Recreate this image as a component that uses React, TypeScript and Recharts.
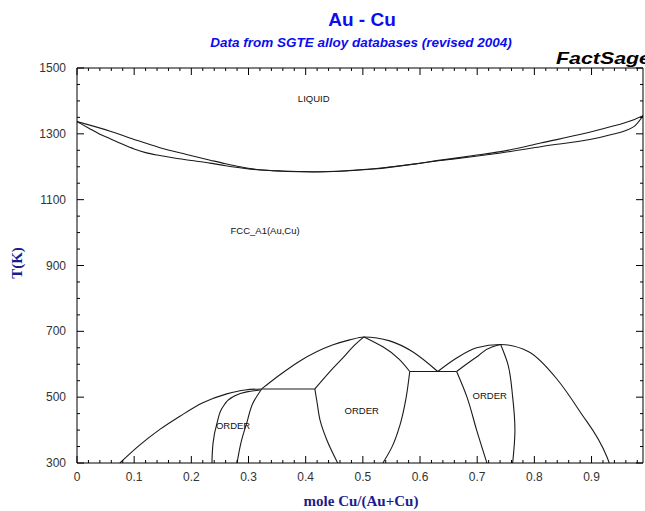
import React from 'react';
import { LineChart, Line, XAxis, YAxis, ReferenceDot } from 'recharts';

// ---- phase boundary data (x = mole fraction Cu, T in K) ----
const liquidus = [
  { x: 0, T: 1337 }, { x: 0.058, T: 1308 }, { x: 0.1, T: 1283 }, { x: 0.145, T: 1258 },
  { x: 0.19, T: 1238 }, { x: 0.233, T: 1220 }, { x: 0.26, T: 1209 }, { x: 0.285, T: 1200 },
  { x: 0.32, T: 1191 }, { x: 0.36, T: 1187 }, { x: 0.413, T: 1185 }, { x: 0.47, T: 1188 },
  { x: 0.519, T: 1194 }, { x: 0.58, T: 1206 }, { x: 0.636, T: 1220 }, { x: 0.694, T: 1234 },
  { x: 0.741, T: 1246 }, { x: 0.811, T: 1272 }, { x: 0.928, T: 1319 }, { x: 0.974, T: 1343 },
  { x: 0.99, T: 1355 },
];
const solidus = [
  { x: 0, T: 1337 }, { x: 0.02, T: 1318 }, { x: 0.04, T: 1299 }, { x: 0.058, T: 1285 },
  { x: 0.08, T: 1268 }, { x: 0.1, T: 1254 }, { x: 0.12, T: 1243 }, { x: 0.145, T: 1234 },
  { x: 0.175, T: 1225 }, { x: 0.205, T: 1218 }, { x: 0.233, T: 1211 }, { x: 0.26, T: 1203 },
  { x: 0.285, T: 1197 }, { x: 0.32, T: 1190 }, { x: 0.413, T: 1184 }, { x: 0.519, T: 1193 },
  { x: 0.636, T: 1219 }, { x: 0.694, T: 1231 }, { x: 0.741, T: 1242 }, { x: 0.811, T: 1261 },
  { x: 0.928, T: 1295 }, { x: 0.974, T: 1322 }, { x: 0.99, T: 1355 },
];
const au3cuOuter = [
  { x: 0.075, T: 300 }, { x: 0.11, T: 355 }, { x: 0.145, T: 402 }, { x: 0.18, T: 442 },
  { x: 0.22, T: 483 }, { x: 0.262, T: 510 }, { x: 0.294, T: 522 }, { x: 0.323, T: 525 },
];
const aucuOuter = [
  { x: 0.323, T: 525 }, { x: 0.355, T: 568 }, { x: 0.39, T: 610 }, { x: 0.448, T: 659 },
  { x: 0.477, T: 674 }, { x: 0.502, T: 683 }, { x: 0.547, T: 671 }, { x: 0.587, T: 638 },
  { x: 0.631, T: 578 },
];
const aucu3Outer = [
  { x: 0.631, T: 578 }, { x: 0.664, T: 619 }, { x: 0.699, T: 650 }, { x: 0.741, T: 660 },
  { x: 0.79, T: 638 }, { x: 0.839, T: 556 }, { x: 0.879, T: 458 }, { x: 0.927, T: 318 },
  { x: 0.931, T: 300 },
];
const au3cuInnerA = [
  { x: 0.236, T: 300 }, { x: 0.238, T: 361 }, { x: 0.245, T: 422 }, { x: 0.255, T: 470 },
  { x: 0.273, T: 501 }, { x: 0.297, T: 516 }, { x: 0.32, T: 522 },
];
const au3cuInnerB = [
  { x: 0.28, T: 300 }, { x: 0.288, T: 370 }, { x: 0.297, T: 422 }, { x: 0.308, T: 483 },
  { x: 0.323, T: 525 },
];
const au3cuTie = [{ x: 0.323, T: 525 }, { x: 0.416, T: 525 }];
const aucuLeftLower = [
  { x: 0.416, T: 525 }, { x: 0.42, T: 483 }, { x: 0.425, T: 431 }, { x: 0.437, T: 370 },
  { x: 0.456, T: 300 },
];
const aucuLeftUpper = [
  { x: 0.416, T: 525 }, { x: 0.442, T: 577 }, { x: 0.465, T: 619 }, { x: 0.486, T: 659 },
  { x: 0.502, T: 683 },
];
const aucuRightUpper = [{ x: 0.502, T: 683 }, { x: 0.535, T: 653 }, { x: 0.582, T: 578 }];
const aucuTie = [{ x: 0.582, T: 578 }, { x: 0.664, T: 578 }];
const aucuRightLower = [
  { x: 0.582, T: 578 }, { x: 0.575, T: 492 }, { x: 0.565, T: 416 }, { x: 0.551, T: 349 },
  { x: 0.535, T: 300 },
];
const aucu3LeftUpper = [{ x: 0.664, T: 578 }, { x: 0.699, T: 622 }, { x: 0.727, T: 653 }, { x: 0.741, T: 660 }];
const aucu3LeftLower = [
  { x: 0.664, T: 578 }, { x: 0.682, T: 501 }, { x: 0.699, T: 400 }, { x: 0.717, T: 300 },
];
const aucu3Right = [
  { x: 0.741, T: 660 }, { x: 0.753, T: 604 }, { x: 0.762, T: 501 }, { x: 0.766, T: 400 },
  { x: 0.762, T: 300 },
];

// curve list with interpolation kind (x-monotonic curves smoothed along x, T-monotonic along T)
const curves: { data: { x: number; T: number }[]; kind: string }[] = [
  { data: liquidus, kind: 'monotoneX' },
  { data: solidus, kind: 'monotoneX' },
  { data: au3cuOuter, kind: 'monotoneX' },
  { data: aucuOuter, kind: 'monotoneX' },
  { data: aucu3Outer, kind: 'monotoneX' },
  { data: au3cuInnerA, kind: 'monotoneY' },
  { data: au3cuInnerB, kind: 'monotoneY' },
  { data: au3cuTie, kind: 'linear' },
  { data: aucuLeftLower, kind: 'monotoneY' },
  { data: aucuLeftUpper, kind: 'monotoneY' },
  { data: aucuRightUpper, kind: 'monotoneY' },
  { data: aucuTie, kind: 'linear' },
  { data: aucuRightLower, kind: 'monotoneY' },
  { data: aucu3LeftUpper, kind: 'monotoneY' },
  { data: aucu3LeftLower, kind: 'monotoneY' },
  { data: aucu3Right, kind: 'monotoneY' },
];

const phaseLabels = [
  { x: 0.414, T: 1407, text: 'LIQUID' },
  { x: 0.329, T: 1006, text: 'FCC_A1(Au,Cu)' },
  { x: 0.273, T: 413, text: 'ORDER' },
  { x: 0.498, T: 458, text: 'ORDER' },
  { x: 0.722, T: 504, text: 'ORDER' },
];

// ---- ticks ----
const xMajorTicks = [0, 0.1, 0.2, 0.3, 0.4, 0.5, 0.6, 0.7, 0.8, 0.9];
const xTickLabels = ['0', '0.1', '0.2', '0.3', '0.4', '0.5', '0.6', '0.7', '0.8', '0.9'];
const xAllTicks = Array.from({ length: 50 }, (_, i) => Math.round(i * 2) / 100);
const yMajorTicks = [300, 500, 700, 900, 1100, 1300, 1500];
const yTickLabels = ['300', '500', '700', '900', '1100', '1300', '1500'];
const yAllTicks = Array.from({ length: 25 }, (_, i) => 300 + i * 50);

const X_DOMAIN: [number, number] = [0, 0.99];
const Y_DOMAIN: [number, number] = [300, 1500];

const SANS = "'Liberation Sans', Arial, sans-serif";
const SERIF = "'Liberation Serif', 'Times New Roman', serif";
const NAVY = '#1c1c8c';
const BLUE = '#0c0cf0';

const majorIdxX = (v: number) => xMajorTicks.findIndex((m) => Math.abs(m - v) < 1e-6);
const majorIdxY = (v: number) => yMajorTicks.indexOf(v);

const BottomTick = (p: any) => {
  const i = majorIdxX(p.payload.value);
  return (
    <g>
      <line x1={p.x} y1={p.y} x2={p.x} y2={p.y - (i >= 0 ? 7 : 3)} stroke="#000" />
      {i >= 0 && (
        <text x={p.x} y={p.y + 18} textAnchor="middle" fontSize={12} fill="#333" fontFamily={SANS}>
          {xTickLabels[i]}
        </text>
      )}
    </g>
  );
};
const TopTick = (p: any) => {
  const i = majorIdxX(p.payload.value);
  return <line x1={p.x} y1={p.y} x2={p.x} y2={p.y + (i >= 0 ? 7 : 3)} stroke="#000" />;
};
const LeftTick = (p: any) => {
  const i = majorIdxY(p.payload.value);
  return (
    <g>
      <line x1={p.x} y1={p.y} x2={p.x + (i >= 0 ? 7 : 3)} y2={p.y} stroke="#000" />
      {i >= 0 && (
        <text x={p.x - 11} y={p.y + 4} textAnchor="end" fontSize={12} fill="#333" fontFamily={SANS}>
          {yTickLabels[i]}
        </text>
      )}
    </g>
  );
};
const RightTick = (p: any) => {
  const i = majorIdxY(p.payload.value);
  return <line x1={p.x} y1={p.y} x2={p.x - (i >= 0 ? 7 : 3)} y2={p.y} stroke="#000" />;
};

export default function App() {
  return (
    <div style={{ position: 'absolute', left: 0, top: 0, width: 645, height: 511, overflow: 'hidden', background: '#fff' }}>
      <LineChart width={645} height={511} margin={{ top: 67, right: 0, bottom: 18, left: 17 }}>
        <XAxis
          xAxisId="b" dataKey="x" type="number" domain={X_DOMAIN} allowDataOverflow
          ticks={xAllTicks} interval={0} tick={<BottomTick />} tickLine={false}
          tickSize={0} tickMargin={0} height={30} axisLine={{ stroke: '#000' }}
        />
        <XAxis
          xAxisId="t" orientation="top" dataKey="x" type="number" domain={X_DOMAIN} allowDataOverflow
          ticks={xAllTicks} interval={0} tick={<TopTick />} tickLine={false}
          tickSize={0} tickMargin={0} height={1} axisLine={{ stroke: '#000' }}
        />
        <YAxis
          yAxisId="l" type="number" domain={Y_DOMAIN} allowDataOverflow
          ticks={yAllTicks} interval={0} tick={<LeftTick />} tickLine={false}
          tickSize={0} tickMargin={0} width={60} axisLine={{ stroke: '#000' }}
        />
        <YAxis
          yAxisId="r" orientation="right" type="number" domain={Y_DOMAIN} allowDataOverflow
          ticks={yAllTicks} interval={0} tick={<RightTick />} tickLine={false}
          tickSize={0} tickMargin={0} width={2} axisLine={{ stroke: '#000' }}
        />
        {curves.map((c, k) => (
          <Line
            key={k} data={c.data} dataKey="T" xAxisId="b" yAxisId="l" type={c.kind as any}
            stroke="#1a1a1a" strokeWidth={1.1} dot={false} activeDot={false}
            isAnimationActive={false}
          />
        ))}
        {phaseLabels.map((l, k) => (
          <ReferenceDot
            key={'lab' + k} x={l.x} y={l.T} xAxisId="b" yAxisId="l" r={0}
            fill="none" stroke="none"
            label={{ value: l.text, position: 'center', fontSize: 9.5, fill: '#111', fontFamily: SANS }}
          />
        ))}
      </LineChart>
      <svg width={645} height={511} style={{ position: 'absolute', left: 0, top: 0, pointerEvents: 'none' }}>
        <text x={362} y={26} textAnchor="middle" fontSize={19} fontWeight="bold" fill={BLUE} fontFamily={SANS}>
          Au - Cu
        </text>
        <text x={361} y={47} textAnchor="middle" fontSize={13.5} fontWeight="bold" fontStyle="italic" fill={BLUE} fontFamily={SANS}>
          Data from SGTE alloy databases (revised 2004)
        </text>
        <text x={556} y={64} fontSize={17} fontWeight="bold" fontStyle="italic" fill="#000" fontFamily={SANS} textLength={95} lengthAdjust="spacingAndGlyphs">
          FactSage
        </text>
        <text x={22} y={263} transform="rotate(-90 22 263)" textAnchor="middle" fontSize={15} fontWeight="bold" fill={NAVY} fontFamily={SERIF}>
          T(K)
        </text>
        <text x={361} y={506} textAnchor="middle" fontSize={15} fontWeight="bold" fill={NAVY} fontFamily={SERIF}>
          mole Cu/(Au+Cu)
        </text>
      </svg>
    </div>
  );
}
